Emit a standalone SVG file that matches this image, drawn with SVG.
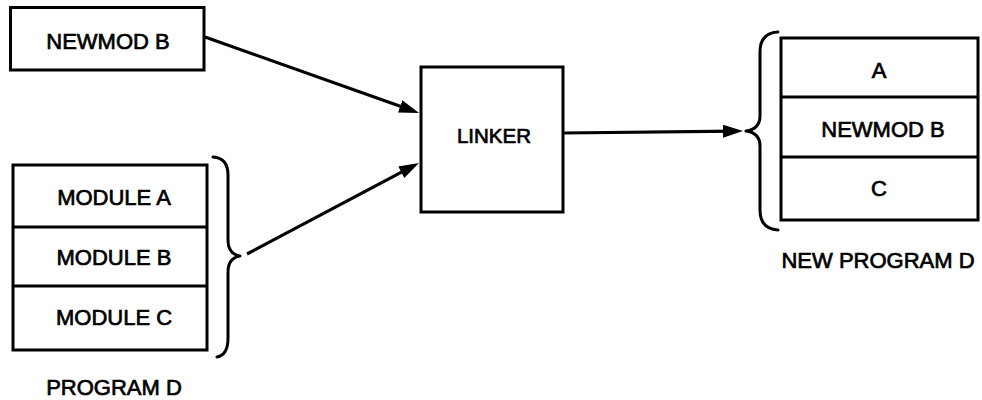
<svg xmlns="http://www.w3.org/2000/svg" width="982" height="400" viewBox="0 0 982 400">
<style>
  .box { fill: #fff; stroke: #000; stroke-width: 3; }
  .div { stroke: #000; stroke-width: 3; fill: none; }
  .brace { stroke: #000; stroke-width: 3; fill: none; stroke-linecap: round; stroke-linejoin: round; }
  .conn { stroke: #000; stroke-width: 3.2; fill: none; marker-end: url(#arrow); }
  .t { font-family: "Liberation Sans", Arial, Helvetica, sans-serif; font-size: 22px; fill: #000; stroke: #000; stroke-width: 0.7; text-anchor: middle; }
</style>
<defs>
  <marker id="arrow" markerUnits="userSpaceOnUse" markerWidth="22" markerHeight="14" refX="12" refY="6.5" orient="auto">
    <path d="M0,0 L20,6.5 L0,13 Z" fill="#000"/>
  </marker>
</defs>
<rect width="982" height="400" fill="#fff"/>

<g id="newmod-b">
  <rect class="box" x="10.5" y="7.5" width="193.5" height="62.5"/>
  <text class="t" x="108" y="49">NEWMOD B</text>
</g>

<g id="program-d">
  <rect class="box" x="13" y="165" width="194" height="185"/>
  <line class="div" x1="13" y1="227" x2="207" y2="227"/>
  <line class="div" x1="13" y1="286" x2="207" y2="286"/>
  <text class="t" x="114" y="205">MODULE A</text>
  <text class="t" x="114" y="265">MODULE B</text>
  <text class="t" x="114" y="325">MODULE C</text>
  <path class="brace" d="M213,157 Q228,158 228,175 L228,240 Q228,254 240,256 Q228,258 228,272 L228,338 Q228,355 217,357"/>
  <text class="t" x="114" y="395">PROGRAM D</text>
</g>

<g id="linker">
  <rect class="box" x="421" y="67" width="142" height="145"/>
  <text class="t" x="494" y="143" style="font-size:20.5px">LINKER</text>
</g>

<g id="new-program-d">
  <path class="brace" d="M778,32 Q760,33 760,52 L760,116 Q760,129 746,131 Q760,133 760,146 L760,210 Q760,229 778,230"/>
  <rect class="box" x="781" y="38" width="197" height="182"/>
  <line class="div" x1="781" y1="97" x2="978" y2="97"/>
  <line class="div" x1="781" y1="157" x2="978" y2="157"/>
  <text class="t" x="879" y="78">A</text>
  <text class="t" x="883" y="137">NEWMOD B</text>
  <text class="t" x="879" y="196">C</text>
  <text class="t" x="878" y="268">NEW PROGRAM D</text>
</g>

<g id="connectors">
  <line class="conn" x1="205" y1="37" x2="411.5" y2="110.3"/>
  <line class="conn" x1="247" y1="254" x2="411.9" y2="166.7"/>
  <line class="conn" x1="563" y1="133" x2="735" y2="131.1"/>
</g>
</svg>
